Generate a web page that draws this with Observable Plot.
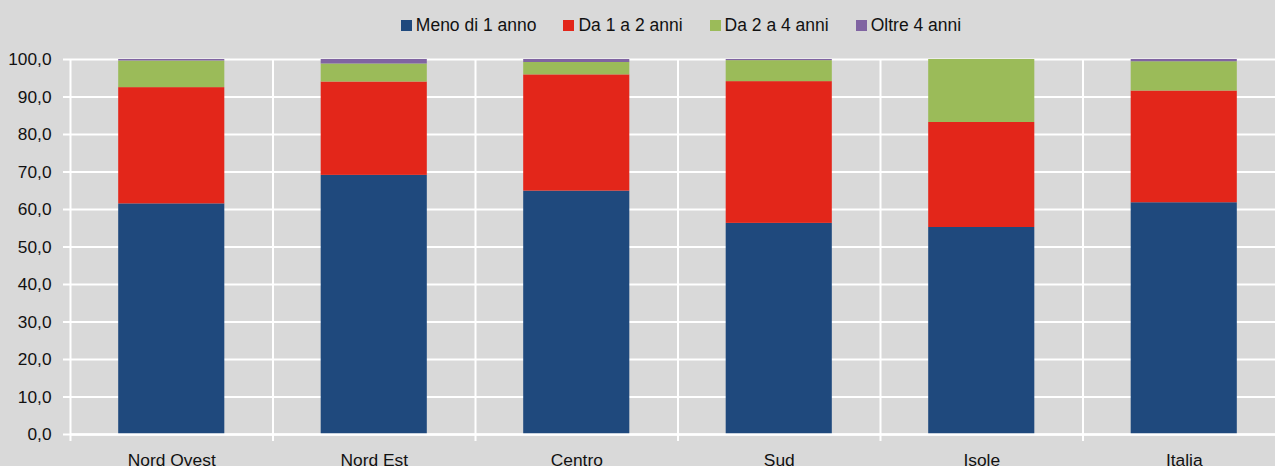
<!DOCTYPE html>
<html>
<head>
<meta charset="utf-8">
<script src="https://cdn.jsdelivr.net/npm/d3@7"></script>
<script src="https://cdn.jsdelivr.net/npm/@observablehq/plot@0.6"></script>
<style>
  html, body { margin: 0; padding: 0; background: #d9d9d9; width: 1275px; height: 466px; overflow: hidden; }
  #legend { height: 50px; display: flex; justify-content: center; align-items: center; gap: 27px; padding-left: 87px; box-sizing: border-box;
    font-family: "Liberation Sans", Arial, sans-serif; font-size: 17.5px; color: #111; }
  .item { display: flex; align-items: center; gap: 4px; }
  .sw { width: 11px; height: 11px; display: inline-block; }
  #chart svg { max-width: none !important; display: block; }
</style>
</head>
<body>
<div id="legend"></div>
<div id="chart"></div>
<script>
const regions = ["Nord Ovest", "Nord Est", "Centro", "Sud", "Isole", "Italia"];
const seriesNames = ["Meno di 1 anno", "Da 1 a 2 anni", "Da 2 a 4 anni", "Oltre 4 anni"];
const seriesColors = ["#1f497d", "#e3261a", "#9bbb59", "#8064a2"];
const menoDi1 = [61.5, 69.1, 64.9, 56.3, 55.2, 61.8];
const da1a2 = [31.0, 24.9, 31.0, 37.8, 28.0, 29.8];
const da2a4 = [7.1, 4.8, 3.3, 5.6, 16.8, 7.8];
const oltre4 = [0.4, 1.2, 0.8, 0.3, 0.0, 0.6];
const yTicks = [0, 10, 20, 30, 40, 50, 60, 70, 80, 90, 100];

const seriesValues = [menoDi1, da1a2, da2a4, oltre4];
const data = [];
seriesNames.forEach((s, si) => regions.forEach((r, ri) => data.push({region: r, series: s, value: seriesValues[si][ri]})));

// legend
const legend = document.getElementById("legend");
seriesNames.forEach((s, i) => {
  const it = document.createElement("div"); it.className = "item";
  const sw = document.createElement("span"); sw.className = "sw"; sw.style.background = seriesColors[i];
  const t = document.createElement("span"); t.textContent = s;
  it.appendChild(sw); it.appendChild(t); legend.appendChild(it);
});

const width = 1285, marginLeft = 70, marginRight = 0;
const step = (width - marginLeft - marginRight) / regions.length;
const fmt = d => d3.format(".1f")(d).replace(".", ",");
const font = "'Liberation Sans', Arial, sans-serif";

const chart = Plot.plot({
  width, height: 416,
  marginLeft, marginRight, marginTop: 9, marginBottom: 32,
  style: {background: "#d9d9d9", fontFamily: font, fontSize: "17px", color: "#111", overflow: "visible", maxWidth: "none"},
  x: {domain: regions, paddingInner: 0.476, paddingOuter: 0.238, round: false, axis: null, label: null},
  y: {domain: [0, 100], axis: null, label: null},
  color: {domain: seriesNames, range: seriesColors},
  marks: [
    Plot.ruleY(yTicks, {stroke: "white", strokeWidth: 2}),
    Plot.ruleX(regions, {x: d => d, y1: 0, y2: 100, dx: -step / 2, stroke: "white", strokeWidth: 2}),
    Plot.barY(data, {x: "region", y: "value", fill: "series"}),
    Plot.ruleY([0], {stroke: "white", strokeWidth: 2.5}),
    Plot.axisY({ticks: yTicks, tickSize: 7, tickPadding: 12, stroke: "white", strokeWidth: 2, tickFormat: fmt, fill: "#111", fontSize: 17.3, label: null}),
    Plot.axisX({tickSize: 7, stroke: "white", strokeWidth: 2, dx: -step / 2, tickFormat: () => "", label: null}),
    Plot.axisX({tickSize: 0, tickPadding: 19, fill: "#111", fontSize: 17.4, label: null})
  ]
});
document.getElementById("chart").appendChild(chart);
</script>
</body>
</html>
